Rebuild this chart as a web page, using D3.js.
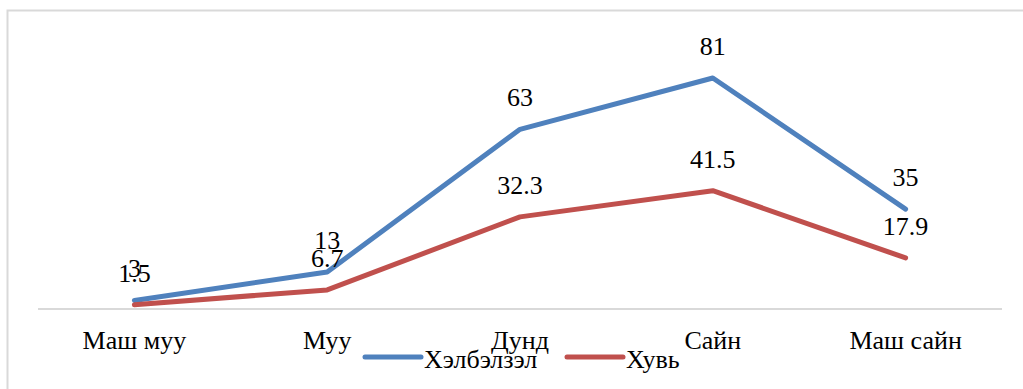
<!DOCTYPE html>
<html>
<head>
<meta charset="utf-8">
<script src="https://cdn.jsdelivr.net/npm/d3@7"></script>
<style>
  html, body { margin: 0; padding: 0; background: #fff; }
  svg { display: block; }
</style>
</head>
<body>
<svg id="chart" width="1023" height="389"></svg>
<script>
const categories = ["Маш муу", "Муу", "Дунд", "Сайн", "Маш сайн"];
const seriesNames = ["Хэлбэлзэл", "Хувь"];
const variation = [3, 13, 63, 81, 35];
const percent = [1.5, 6.7, 32.3, 41.5, 17.9];
const colors = ["#4F81BD", "#C0504D"];

const FONT = "Liberation Serif, Times New Roman, Tinos, DejaVu Serif, Noto Serif, serif";

const series = [
  { name: seriesNames[0], values: variation, color: colors[0] },
  { name: seriesNames[1], values: percent, color: colors[1] }
];

const svg = d3.select("#chart").attr("font-family", FONT);

// outer chart frame (runs off the right and bottom edges)
svg.append("rect")
  .attr("x", 7.5).attr("y", 10.5)
  .attr("width", 1040).attr("height", 420)
  .attr("fill", "none").attr("stroke", "#d9d9d9").attr("stroke-width", 2);

const x = d3.scaleBand().domain(categories).range([38, 1002]);
const y = d3.scaleLinear().domain([0, 81]).range([309, 78]);

// category axis baseline
svg.append("line")
  .attr("x1", 38).attr("x2", 1002)
  .attr("y1", y(0)).attr("y2", y(0))
  .attr("stroke", "#d9d9d9").attr("stroke-width", 2);

// category labels
const xAxis = svg.append("g").attr("transform", `translate(0,${y(0)})`)
  .call(d3.axisBottom(x).tickSize(0).tickPadding(0));
xAxis.attr("font-family", FONT).attr("font-size", 26);
xAxis.select(".domain").remove();
xAxis.selectAll("text")
  .attr("y", 40).attr("dy", null)
  .attr("font-family", FONT)
  .attr("font-size", 26)
  .attr("fill", "#000");

const cx = d => x(d) + x.bandwidth() / 2;

const line = d3.line()
  .x((d, i) => cx(categories[i]))
  .y(d => y(d));

series.forEach(s => {
  svg.append("path")
    .datum(s.values)
    .attr("d", line)
    .attr("fill", "none")
    .attr("stroke", s.color)
    .attr("stroke-width", 5)
    .attr("stroke-linejoin", "round")
    .attr("stroke-linecap", "round");
});

// value labels above each point
series.forEach(s => {
  svg.append("g").selectAll("text")
    .data(s.values)
    .join("text")
    .attr("x", (d, i) => cx(categories[i]))
    .attr("y", d => y(d) - 23)
    .attr("text-anchor", "middle")
    .attr("font-family", FONT)
    .attr("font-size", 26)
    .attr("fill", "#000")
    .text(d => d);
});

// legend
const legendItems = [
  { x: 365, s: series[0] },
  { x: 567, s: series[1] }
];
const lg = svg.append("g");
legendItems.forEach(it => {
  lg.append("line")
    .attr("x1", it.x).attr("x2", it.x + 56)
    .attr("y1", 357).attr("y2", 357)
    .attr("stroke", it.s.color).attr("stroke-width", 5)
    .attr("stroke-linecap", "round");
  lg.append("text")
    .attr("x", it.x + 59).attr("y", 368)
    .attr("font-family", FONT)
    .attr("font-size", 26)
    .attr("fill", "#000")
    .text(it.s.name);
});
</script>
</body>
</html>
